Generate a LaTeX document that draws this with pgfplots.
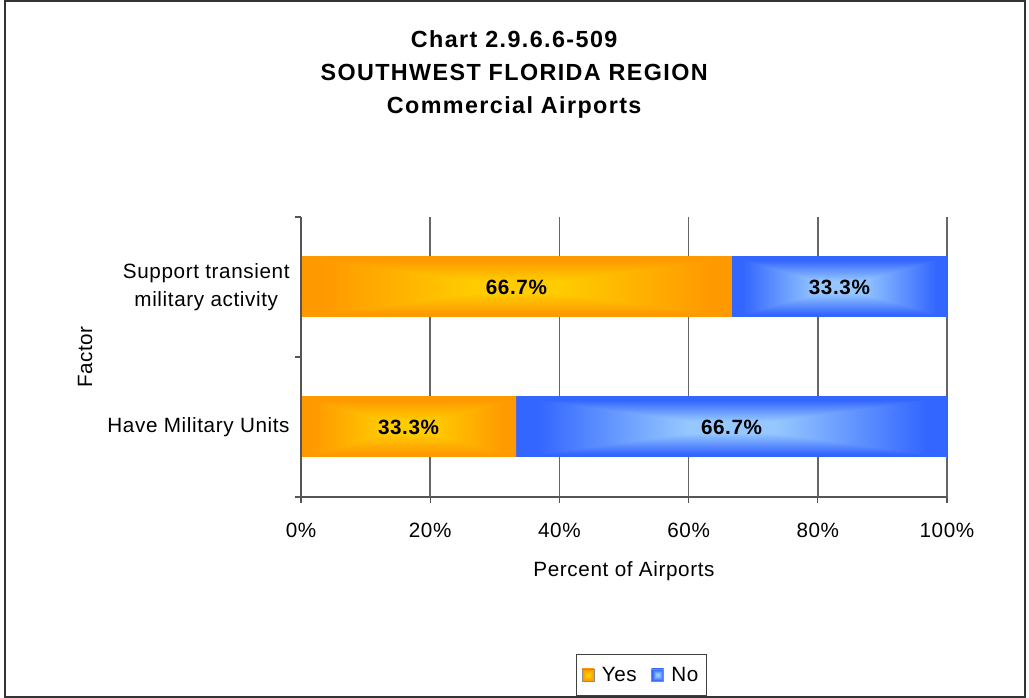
\documentclass[border=0pt]{standalone}
\usepackage{pgfplots}
\pgfplotsset{compat=1.18}
\usepackage{fontspec}
\setmainfont{Liberation Sans}[LetterSpace=3]
\newfontfamily\titlefont{Liberation Sans}[LetterSpace=6]
\definecolor{gridc}{HTML}{666666}
\definecolor{axc}{HTML}{555555}

% rectangular "from centre" gradients (Excel style)
\pgfdeclarefunctionalshading{orrect}{\pgfpoint{-50bp}{-50bp}}{\pgfpoint{50bp}{50bp}}{}{%
  abs exch abs 2 copy lt {exch} if pop
  25 div 0.2 sub 0.7 div dup 0 lt {pop 0} if dup 1 gt {pop 1} if
  1 exch -0.2 mul 0.8 add 0
}
\pgfdeclarefunctionalshading{blrect}{\pgfpoint{-50bp}{-50bp}}{\pgfpoint{50bp}{50bp}}{}{%
  abs exch abs 2 copy lt {exch} if pop
  25 div 0.2 sub 0.7 div dup 0 lt {pop 0} if dup 1 gt {pop 1} if
  dup -0.388 mul 0.588 add exch -0.384 mul 0.784 add 1
}

\pgfplotsset{
  frame/.style={
    at={(225.75pt,150.75pt)}, anchor=south west,
    scale only axis, width=484.5pt, height=210pt,
    xbar stacked, bar width=45pt,
    xmin=0, xmax=100, ymin=-0.5, ymax=1.5,
    point meta=explicit,
    /pgf/number format/assume math mode=true,
    nodes near coords={\pgfmathprintnumber[fixed,fixed zerofill,precision=1]{\pgfplotspointmeta}\%},
    every node near coord/.append style={font=\bfseries\fontsize{15.5}{18}\selectfont, anchor=center},
  },
  yesbar/.style={draw=none, shade, shading=orrect},
  nobar/.style={draw=none, shade, shading=blrect},
}

\begin{document}
\begin{tikzpicture}
\useasboundingbox (0,0) rectangle (771.75pt,523.5pt);
\draw[line width=1.5pt, color=black!80] (3.4pt,0.75pt) rectangle (768.75pt,522.4pt);
\begin{axis}[
  frame,
  xtick={0,20,40,60,80,100},
  xticklabels={0\%,20\%,40\%,60\%,80\%,100\%},
  ytick={-0.5,0.5,1.5},
  yticklabels={,,},
  extra y ticks={0,1},
  extra y tick labels={Have Military Units,{Support transient\\military activity}},
  extra y tick style={major tick length=0pt},
  axis x line*=bottom, axis y line*=left,
  tick align=outside, major tick length=4.5pt,
  xmajorgrids,
  grid style={gridc, line width=1.3pt},
  axis line style={axc, line width=1.3pt},
  tick style={axc, line width=1pt},
  tick label style={font=\fontsize{15.5}{21}\selectfont},
  yticklabel style={align=center, xshift=-5pt},
  xticklabel style={yshift=-11.5pt},
  label style={font=\fontsize{15.5}{18}\selectfont},
  xlabel={Percent of Airports},
  ylabel={Factor},
  xlabel style={at={(0.5,-0.264)}, anchor=center},
  ylabel style={at={(-0.334,0.5)}, anchor=center},
  title={Chart 2.9.6.6-509\\SOUTHWEST FLORIDA REGION\\Commercial Airports},
  title style={font=\titlefont\bfseries\fontsize{17.5}{24.75}\selectfont, align=center, at={(0.33,1.482)}, anchor=center},
  legend style={at={(0.527,-0.711)}, anchor=south, legend columns=2, draw=black!75, line width=0.6pt,
    font=\fontsize{15.5}{18}\selectfont, inner xsep=4pt, inner ysep=7.5pt,
    /tikz/every odd column/.append style={column sep=3.5pt},
    /tikz/every even column/.append style={column sep=9pt}},
  legend image code/.code={\draw[#1, draw=black!45, line width=0.4pt] (0pt,-4.5pt) rectangle (9pt,4.5pt);},
]
\addplot[yesbar] table[x=v, y=cat, meta=v, row sep=\\]{cat v\\ 0 33.3\\};
\addplot[nobar] table[x=v, y=cat, meta=v, row sep=\\]{cat v\\ 0 66.7\\};
\legend{Yes,No}
\end{axis}
\begin{axis}[
  frame,
  axis on top,
  hide x axis,
  axis y line*=left,
  ytick=\empty,
  axis line style={axc, line width=1.3pt},
]
\addplot[yesbar] table[x=v, y=cat, meta=v, row sep=\\]{cat v\\ 1 66.7\\};
\addplot[nobar] table[x=v, y=cat, meta=v, row sep=\\]{cat v\\ 1 33.3\\};
\end{axis}
\end{tikzpicture}
\end{document}
